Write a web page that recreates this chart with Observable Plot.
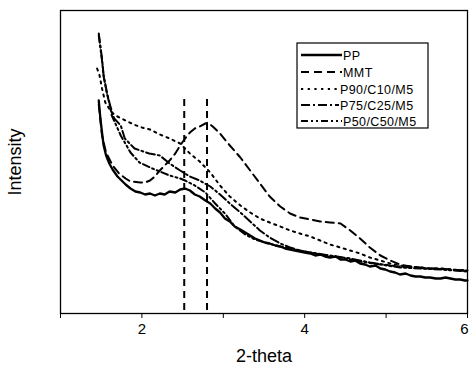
<!DOCTYPE html>
<html>
<head>
<meta charset="utf-8">
<script src="https://cdn.jsdelivr.net/npm/d3@7"></script>
<script src="https://cdn.jsdelivr.net/npm/@observablehq/plot@0.6"></script>
<style>
  html, body { margin: 0; padding: 0; background: #fff; }
  #chart svg { display: block; }
</style>
</head>
<body>
<div id="chart"></div>
<script>
// ---- data (intensity in arbitrary units) ----
const seriesNames = ["PP", "MMT", "P90/C10/M5", "P75/C25/M5", "P50/C50/M5"];

const ppX = [1.47,1.49,1.51,1.53,1.56,1.60,1.64,1.70,1.75,1.80,1.86,1.92,1.98,2.04,2.10,2.16,2.22,2.28,2.34,2.41,2.47,2.53,2.59,2.65,2.71,2.78,2.84,2.90,2.96,3.02,3.08,3.14,3.21,3.27,3.33,3.39,3.45,3.51,3.57,3.64,3.70,3.76,3.82,3.88,3.94,4.00,4.07,4.13,4.19,4.25,4.31,4.38,4.44,4.50,4.56,4.62,4.68,4.74,4.80,4.87,4.93,4.99,5.05,5.11,5.17,5.24,5.30,5.36,5.42,5.48,5.54,5.61,5.67,5.73,5.79,5.85,5.91,5.97,6.00];
const ppY = [213,195,181,168,158,150,144,137,133,129,125,122,121,119,120,118,120,119,122,121,124,125,123,119,117,113,110,105,101,95,92,87,84,81,78,75,73,71,70,68,67,65,64,63,62,61,60,58,59,57,56,57,54,54,52,53,50,49,47,48,45,44,42,41,39,40,38,37,37,36,36,35,35,36,35,34,34,33,33];

const mmtX = [1.47,1.51,1.56,1.64,1.72,1.80,1.86,1.98,2.04,2.10,2.16,2.22,2.28,2.34,2.41,2.47,2.53,2.59,2.65,2.71,2.78,2.81,2.87,2.96,3.08,3.21,3.33,3.45,3.57,3.70,3.82,3.94,4.07,4.19,4.31,4.44,4.56,4.68,4.80,4.93,5.05,5.17,5.30,5.42,5.54,5.67,5.79,5.91,6.00];
const mmtY = [209,178,161,148,140,135,132,131,131,133,137,143,148,153,160,168,175,181,185,187,190,191,187,180,168,156,143,130,117,107,100,96,94,92,91,90,83,75,66,58,53,49,47,46,45,45,44,43,43];

const p90X = [1.45,1.48,1.51,1.55,1.63,1.70,1.80,1.90,2.00,2.10,2.22,2.34,2.47,2.59,2.71,2.84,2.96,3.08,3.21,3.33,3.45,3.57,3.70,3.82,3.94,4.07,4.19,4.31,4.44,4.56,4.68,4.80,4.93,5.05,5.17,5.30,5.42,5.54,5.67,5.79,6.00];
const p90Y = [245,238,225,211,201,197,193,189,186,184,179,175,170,160,152,141,128,117,108,101,95,91,87,83,80,77,73,69,66,63,60,56,53,50,48,47,46,45,45,44,43];

const p75X = [1.47,1.51,1.53,1.57,1.61,1.66,1.74,1.79,1.91,2.09,2.22,2.34,2.47,2.53,2.59,2.71,2.84,2.96,3.08,3.21,3.33,3.45,3.57,3.70,3.82,3.94,4.07,4.31,4.56,4.80,5.05,5.30,5.54,5.79,6.00];
const p75Y = [280,255,238,221,208,195,188,175,165,160,158,150,143,140,137,133,127,119,110,101,92,83,76,70,66,63,61,58,55,51,48,46,45,44,43];

const p50X = [1.47,1.51,1.53,1.57,1.61,1.63,1.74,1.86,1.97,2.13,2.34,2.47,2.53,2.65,2.78,2.90,3.02,3.14,3.27,3.39,3.51,3.70,3.94,4.19,4.44,4.68,4.93,5.17,5.42,5.67,6.00];
const p50Y = [278,253,237,220,207,198,178,161,151,145,138,135,133,128,121,110,100,87,79,74,71,67,63,59,56,52,49,46,45,44,42];

// marker lines at the two peak positions
const peakX = [2.52, 2.80];
const peakTop = 218;

const xTicks = [1, 2, 3, 4, 5, 6];
const xTickLabels = ["", "2", "", "4", "", "6"];

// ---- styles ----
const dashes = [null, "8,5", "2.2,4.5", "9,3,2,3", "7,3,2,3,2,3"];
const widths = [2.3, 2, 2, 2, 2];

const seriesX = [ppX, mmtX, p90X, p75X, p50X];
const seriesY = [ppY, mmtY, p90Y, p75Y, p50Y];
const rows = seriesNames.map((name, i) => seriesX[i].map((x, j) => ({series: name, x, y: seriesY[i][j]})));

const legendMark = (index, scales, values, dims) => {
  const g = d3.create("svg:g").attr("text-anchor", "start");
  const x0 = 297, y0 = 43, w = 131, h = 85;
  g.append("rect").attr("x", x0).attr("y", y0).attr("width", w).attr("height", h)
    .attr("fill", "white").attr("stroke", "black").attr("stroke-width", 1.2);
  const rowY = [55, 72, 89, 105, 121];
  const textX = [343, 343, 340, 340, 343];
  seriesNames.forEach((name, i) => {
    const l = g.append("line").attr("x1", x0 + 4).attr("x2", textX[i] - 1)
      .attr("y1", rowY[i]).attr("y2", rowY[i])
      .attr("stroke", "black").attr("stroke-width", widths[i]);
    if (dashes[i]) l.attr("stroke-dasharray", dashes[i]);
    g.append("text").attr("x", textX[i]).attr("y", rowY[i]).attr("dy", "0.36em")
      .attr("text-anchor", "start")
      .attr("font-size", 12.5).attr("letter-spacing", "0.4px")
      .attr("font-family", "Liberation Sans, Arial, sans-serif").attr("fill", "black")
      .text(name);
  });
  return g.node();
};

const marks = [
  Plot.frame({stroke: "black", strokeWidth: 1.3}),
  Plot.ruleX(peakX, {y1: 3, y2: peakTop, stroke: "black", strokeWidth: 2, strokeDasharray: "7,5"}),
  ...rows.map((r, i) => Plot.line(r, {x: "x", y: "y", stroke: "black", strokeWidth: widths[i],
      strokeDasharray: dashes[i] || undefined, curve: "linear"})),
  Plot.axisX({ticks: xTicks, tickSize: 5, tickFormat: (d) => xTickLabels[xTicks.indexOf(d)],
      fontSize: 15, tickPadding: 5, label: "2-theta", labelAnchor: "center", labelOffset: 48, labelArrow: "none"}),
  Plot.axisY({ticks: [], label: "Intensity", labelAnchor: "center", labelOffset: 52, labelArrow: "none", tickSize: 0}),
  legendMark
];

const chart = Plot.plot({
  width: 470,
  height: 369,
  marginLeft: 60,
  marginRight: 3,
  marginTop: 10,
  marginBottom: 56,
  x: {domain: [1, 6]},
  y: {domain: [0, 303]},
  style: {fontFamily: "Liberation Sans, Arial, sans-serif", fontSize: "15px", color: "black", background: "white", overflow: "visible"},
  marks
});
document.getElementById("chart").append(chart);
// enlarge the axis-title fonts
chart.querySelectorAll("g[aria-label='x-axis label'] text, g[aria-label='y-axis label'] text").forEach(t => t.setAttribute("font-size", 18));
// keep the last tick label inside the picture
const tickTexts = chart.querySelectorAll("g[aria-label='x-axis tick label'] text");
tickTexts.forEach(t => { if (t.textContent === "6") t.setAttribute("dx", "-3"); });
</script>
</body>
</html>
